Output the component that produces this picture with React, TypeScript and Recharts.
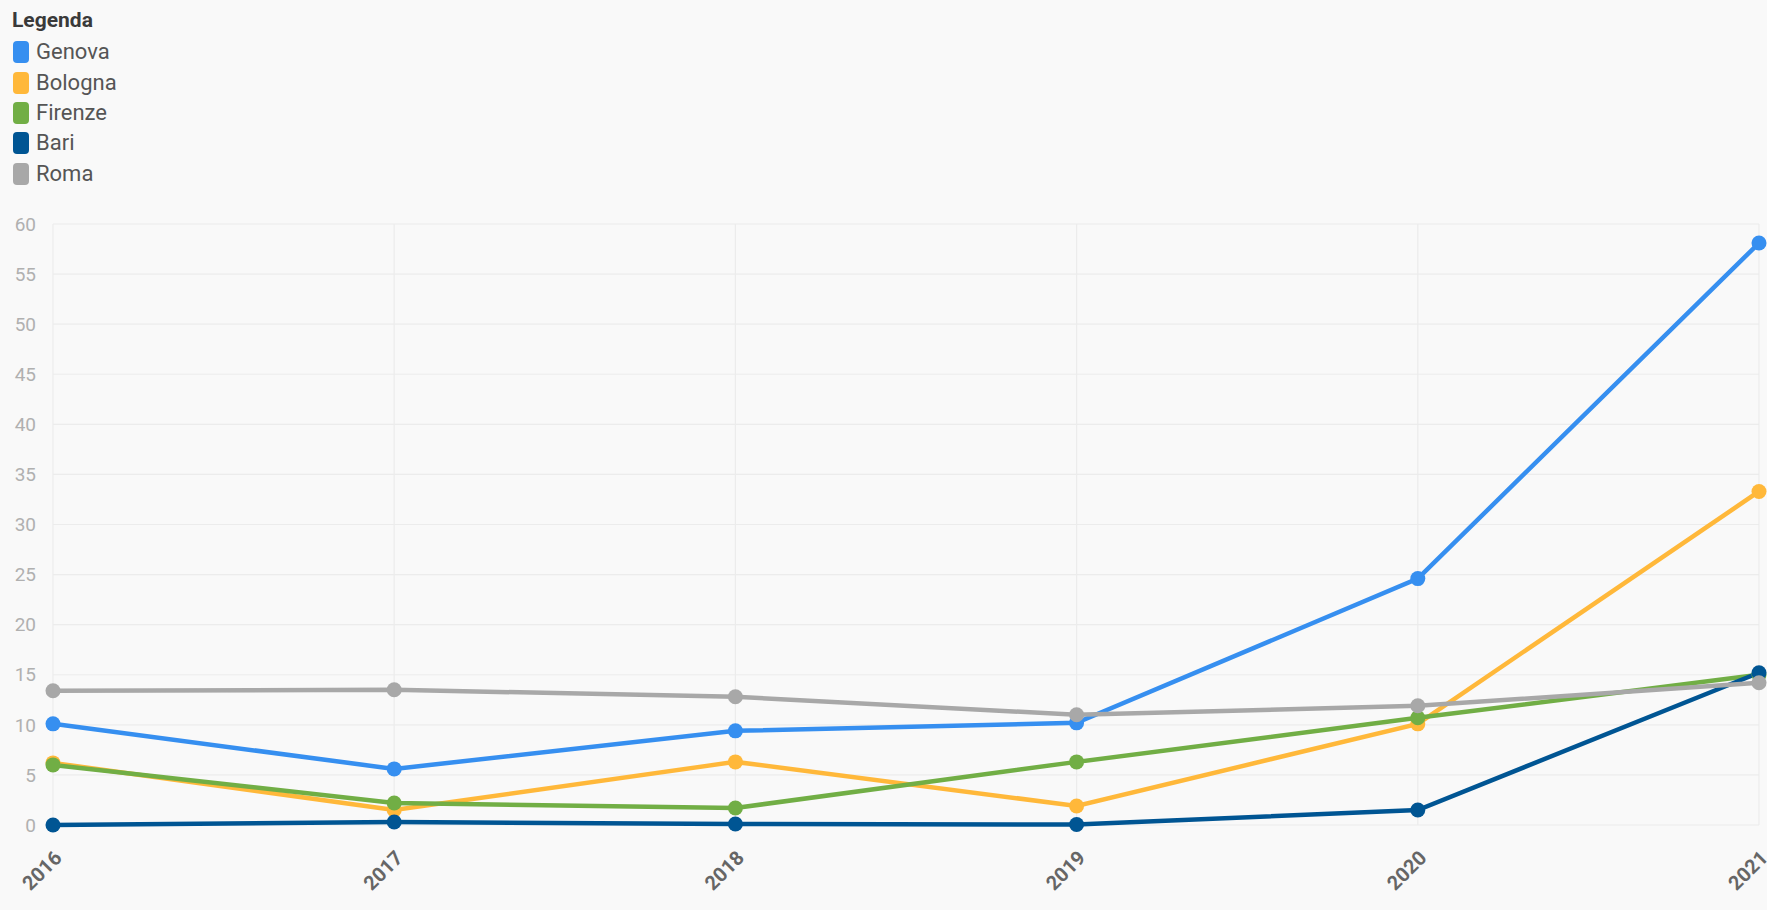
import React from 'react';
import { LineChart, Line, XAxis, YAxis, CartesianGrid } from 'recharts';

const years = ['2016', '2017', '2018', '2019', '2020', '2021'];
const genova = [10.1, 5.6, 9.4, 10.2, 24.6, 58.1];
const bologna = [6.2, 1.5, 6.3, 1.9, 10.1, 33.3];
const firenze = [6.0, 2.2, 1.7, 6.3, 10.7, 15.0];
const bari = [0.0, 0.3, 0.1, 0.05, 1.5, 15.2];
const roma = [13.4, 13.5, 12.8, 11.0, 11.9, 14.2];
const yTicks = [0, 5, 10, 15, 20, 25, 30, 35, 40, 45, 50, 55, 60];

const series = [
  { key: 'Genova', values: genova, color: '#368ff0' },
  { key: 'Bologna', values: bologna, color: '#ffb83a' },
  { key: 'Firenze', values: firenze, color: '#71ae45' },
  { key: 'Bari', values: bari, color: '#005593' },
  { key: 'Roma', values: roma, color: '#a8a8a8' },
];

const data = years.map((y, i) => {
  const row: Record<string, string | number> = { year: y };
  series.forEach((s) => {
    row[s.key] = s.values[i];
  });
  return row;
});

export default function App() {
  return (
    <div
      style={{
        position: 'absolute',
        left: 0,
        top: 0,
        width: 1767,
        height: 910,
        background: '#f9f9f9',
        overflow: 'hidden',
        fontFamily: 'Roboto, sans-serif',
      }}
    >
      <div style={{ position: 'absolute', left: 12, top: 6 }}>
        <div style={{ fontWeight: 700, fontSize: 21, color: '#3a3a3a', lineHeight: '28px', marginBottom: 3 }}>Legenda</div>
        {series.map((s) => (
          <div key={s.key} style={{ display: 'flex', alignItems: 'center', height: 30.4 }}>
            <div
              style={{
                width: 16,
                height: 22,
                borderRadius: 4,
                background: s.color,
                marginRight: 7,
                marginLeft: 1,
              }}
            />
            <span style={{ fontSize: 22, color: '#555', lineHeight: '30px' }}>{s.key}</span>
          </div>
        ))}
      </div>
      <LineChart
        width={1767}
        height={910}
        data={data}
        margin={{ top: 224, right: 8, left: 0, bottom: 0 }}
        style={{ position: 'absolute', left: 0, top: 0 }}
      >
        <CartesianGrid stroke="#ececec" strokeWidth={1.2} />
        <XAxis
          dataKey="year"
          interval={0}
          height={85}
          axisLine={false}
          tickLine={false}
          tickSize={0}
          tickMargin={24}
          angle={-45}
          textAnchor="end"
          tick={{ fill: '#666', fontSize: 20, fontWeight: 700, fontFamily: 'Roboto' }}
        />
        <YAxis
          domain={[0, 60]}
          ticks={yTicks}
          width={53}
          axisLine={false}
          tickLine={false}
          tickSize={0}
          tickMargin={17}
          interval={0}
          tick={{ fill: '#b0b0b0', fontSize: 19, fontFamily: 'Roboto' }}
        />
        {series.map((s) => (
          <Line
            key={s.key}
            dataKey={s.key}
            type="linear"
            stroke={s.color}
            strokeWidth={4.5}
            dot={{ r: 7.5, fill: s.color, stroke: s.color, strokeWidth: 0 }}
            activeDot={false}
            isAnimationActive={false}
          />
        ))}
      </LineChart>
    </div>
  );
}
